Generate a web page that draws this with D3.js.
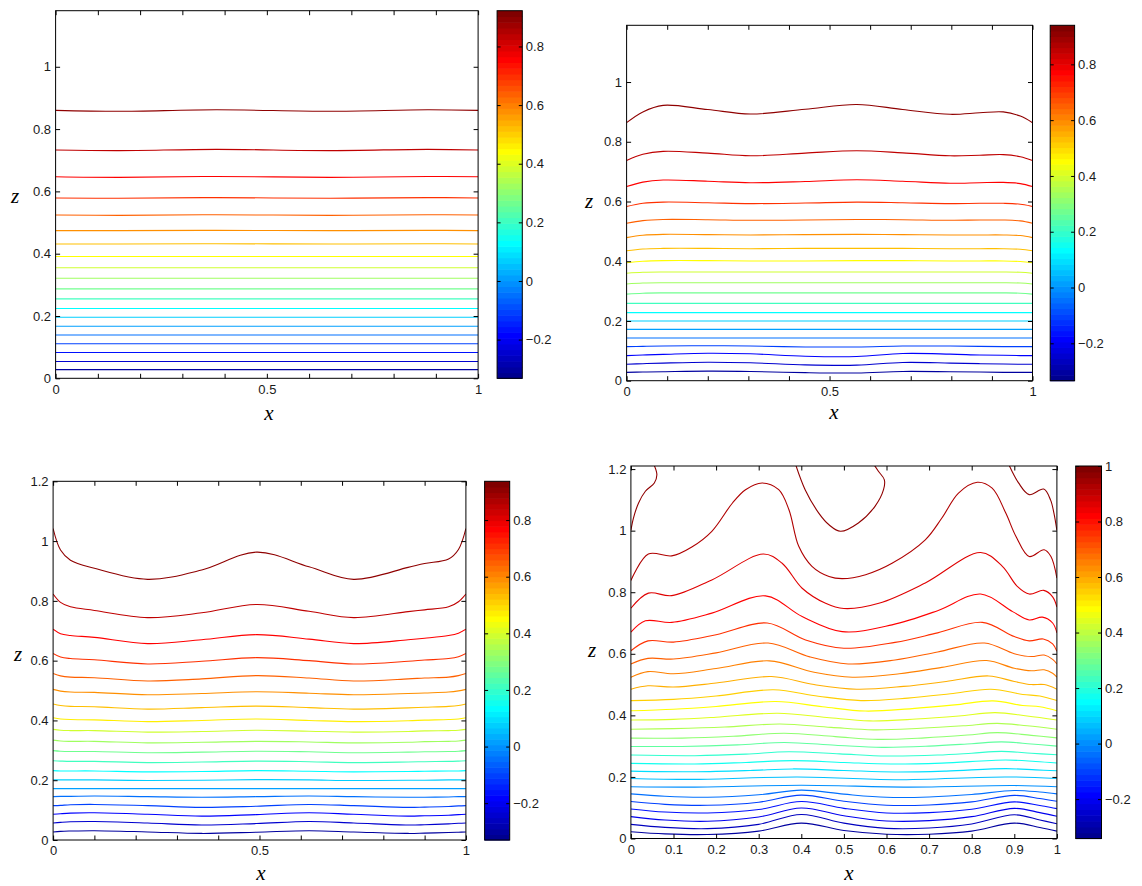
<!DOCTYPE html>
<html>
<head>
<meta charset="utf-8">
<script src="https://cdn.jsdelivr.net/npm/d3@7"></script>
<style>
  html, body { margin: 0; padding: 0; background: #fff; }
  svg { display: block; }
  .tick text { font-family: "Liberation Sans", Arial, Helvetica, sans-serif; font-size: 13px; fill: #1a1a1a; }
  .axis-label { font-family: "Liberation Serif", "Times New Roman", serif; font-style: italic; font-size: 21px; fill: #000; }
</style>
</head>
<body>
<svg id="fig" width="1142" height="886"></svg>
<script>
// ---- tick values ----
const xTicks = [0, 0.1, 0.2, 0.3, 0.4, 0.5, 0.6, 0.7, 0.8, 0.9, 1];
const xLabelsSparse = [0, 0.5, 1];
const zTicksTop = [0, 0.2, 0.4, 0.6, 0.8, 1];
const zTicksBottom = [0, 0.2, 0.4, 0.6, 0.8, 1, 1.2];
const cTicks = [-0.2, 0, 0.2, 0.4, 0.6, 0.8];
const cTicks4 = [-0.2, 0, 0.2, 0.4, 0.6, 0.8, 1];

// ---- panel 1 (top left) ----
const p1Levels = [0.890, 0.827, 0.765, 0.702, 0.639, 0.577, 0.514, 0.451, 0.389, 0.326,
                  0.263, 0.201, 0.138, 0.075, 0.013, -0.050, -0.113, -0.175, -0.238, -0.301];
const p1X = [0, 0.15, 0.38, 0.65, 0.88, 1];
const p1Z = [
  [0.860, 0.857, 0.862, 0.857, 0.862, 0.860],
  [0.733, 0.731, 0.735, 0.731, 0.735, 0.733],
  [0.647, 0.645, 0.648, 0.645, 0.648, 0.647],
  [0.579, 0.578, 0.580, 0.578, 0.580, 0.579],
  [0.524, 0.523, 0.525, 0.523, 0.525, 0.524],
  [0.474, 0.474, 0.475, 0.474, 0.475, 0.474],
  [0.431, 0.431, 0.432, 0.431, 0.432, 0.431],
  [0.391, 0.391, 0.391, 0.391, 0.391, 0.391],
  [0.355, 0.355, 0.355, 0.355, 0.355, 0.355],
  [0.321, 0.321, 0.321, 0.321, 0.321, 0.321],
  [0.287, 0.287, 0.287, 0.287, 0.287, 0.287],
  [0.255, 0.255, 0.255, 0.255, 0.255, 0.255],
  [0.224, 0.224, 0.224, 0.224, 0.224, 0.224],
  [0.196, 0.196, 0.196, 0.196, 0.196, 0.196],
  [0.167, 0.167, 0.167, 0.167, 0.167, 0.167],
  [0.139, 0.139, 0.139, 0.139, 0.139, 0.139],
  [0.111, 0.111, 0.111, 0.111, 0.111, 0.111],
  [0.083, 0.083, 0.083, 0.083, 0.083, 0.083],
  [0.054, 0.054, 0.054, 0.054, 0.054, 0.054],
  [0.028, 0.028, 0.028, 0.028, 0.028, 0.028]
];

// ---- panel 2 (top right) ----
const p2Levels = [0.908, 0.844, 0.780, 0.717, 0.653, 0.589, 0.525, 0.462, 0.398, 0.334,
                  0.270, 0.207, 0.143, 0.079, 0.015, -0.048, -0.112, -0.176, -0.239, -0.303];
const p2X = [0, 0.04, 0.09, 0.2, 0.305, 0.44, 0.567, 0.68, 0.797, 0.87, 0.928, 0.97, 1];
const p2Z = [
  [0.864, 0.900, 0.922, 0.908, 0.893, 0.909, 0.925, 0.908, 0.892, 0.897, 0.900, 0.886, 0.864],
  [0.737, 0.758, 0.768, 0.762, 0.753, 0.762, 0.770, 0.763, 0.753, 0.755, 0.757, 0.750, 0.737],
  [0.650, 0.665, 0.672, 0.668, 0.663, 0.667, 0.673, 0.668, 0.661, 0.663, 0.664, 0.660, 0.650],
  [0.583, 0.594, 0.598, 0.596, 0.593, 0.595, 0.598, 0.596, 0.593, 0.594, 0.594, 0.591, 0.583],
  [0.527, 0.536, 0.540, 0.539, 0.537, 0.538, 0.540, 0.539, 0.537, 0.538, 0.538, 0.535, 0.527],
  [0.479, 0.487, 0.490, 0.489, 0.488, 0.489, 0.490, 0.489, 0.488, 0.488, 0.488, 0.486, 0.479],
  [0.435, 0.441, 0.443, 0.443, 0.442, 0.443, 0.443, 0.443, 0.442, 0.442, 0.442, 0.440, 0.435],
  [0.395, 0.400, 0.402, 0.402, 0.401, 0.401, 0.402, 0.402, 0.401, 0.401, 0.401, 0.399, 0.395],
  [0.360, 0.363, 0.364, 0.364, 0.364, 0.364, 0.364, 0.364, 0.364, 0.364, 0.364, 0.363, 0.360],
  [0.324, 0.327, 0.328, 0.328, 0.328, 0.328, 0.328, 0.328, 0.328, 0.328, 0.328, 0.327, 0.324],
  [0.290, 0.293, 0.294, 0.294, 0.294, 0.294, 0.294, 0.294, 0.294, 0.294, 0.294, 0.293, 0.290],
  [0.259, 0.259, 0.259, 0.259, 0.259, 0.259, 0.259, 0.259, 0.259, 0.259, 0.259, 0.259, 0.259],
  [0.228, 0.228, 0.228, 0.228, 0.228, 0.228, 0.228, 0.228, 0.228, 0.228, 0.228, 0.228, 0.228],
  [0.200, 0.200, 0.200, 0.200, 0.200, 0.200, 0.200, 0.200, 0.200, 0.200, 0.200, 0.200, 0.200],
  [0.172, 0.172, 0.172, 0.172, 0.172, 0.172, 0.172, 0.172, 0.172, 0.172, 0.172, 0.172, 0.172],
  [0.143, 0.143, 0.143, 0.143, 0.143, 0.143, 0.143, 0.143, 0.143, 0.143, 0.143, 0.143, 0.143],
  [0.114, 0.115, 0.116, 0.117, 0.116, 0.113, 0.113, 0.116, 0.116, 0.115, 0.114, 0.114, 0.114],
  [0.084, 0.086, 0.088, 0.092, 0.090, 0.082, 0.081, 0.091, 0.089, 0.086, 0.085, 0.084, 0.084],
  [0.055, 0.057, 0.059, 0.062, 0.060, 0.053, 0.052, 0.061, 0.059, 0.057, 0.056, 0.055, 0.055],
  [0.028, 0.029, 0.030, 0.032, 0.031, 0.027, 0.026, 0.031, 0.030, 0.029, 0.028, 0.028, 0.028]
];

// ---- panel 3 (bottom left) ----
const p3Levels = [0.905, 0.842, 0.778, 0.715, 0.652, 0.588, 0.525, 0.462, 0.398, 0.335,
                  0.272, 0.208, 0.145, 0.082, 0.018, -0.045, -0.108, -0.172, -0.235, -0.298];
const p3X = [0, 0.018, 0.042, 0.1, 0.229, 0.36, 0.493, 0.62, 0.728, 0.86, 0.9, 0.958, 0.982, 1];
const p3Z = [
  [1.042, 0.970, 0.936, 0.909, 0.872, 0.903, 0.963, 0.914, 0.872, 0.912, 0.925, 0.940, 0.972, 1.042],
  [0.823, 0.795, 0.780, 0.768, 0.744, 0.760, 0.788, 0.765, 0.744, 0.764, 0.770, 0.780, 0.797, 0.823],
  [0.705, 0.690, 0.684, 0.678, 0.657, 0.670, 0.687, 0.672, 0.657, 0.670, 0.675, 0.684, 0.692, 0.705],
  [0.624, 0.612, 0.607, 0.603, 0.589, 0.598, 0.610, 0.600, 0.589, 0.598, 0.602, 0.607, 0.613, 0.624],
  [0.557, 0.549, 0.545, 0.543, 0.532, 0.539, 0.550, 0.542, 0.532, 0.539, 0.542, 0.545, 0.550, 0.557],
  [0.504, 0.498, 0.495, 0.494, 0.486, 0.490, 0.496, 0.491, 0.486, 0.490, 0.492, 0.495, 0.499, 0.504],
  [0.455, 0.450, 0.447, 0.446, 0.438, 0.443, 0.448, 0.443, 0.438, 0.442, 0.444, 0.447, 0.450, 0.455],
  [0.409, 0.405, 0.403, 0.402, 0.396, 0.400, 0.405, 0.400, 0.396, 0.399, 0.401, 0.403, 0.405, 0.409],
  [0.370, 0.367, 0.366, 0.366, 0.361, 0.363, 0.367, 0.364, 0.361, 0.363, 0.365, 0.366, 0.367, 0.370],
  [0.334, 0.331, 0.330, 0.330, 0.325, 0.327, 0.330, 0.328, 0.325, 0.327, 0.329, 0.330, 0.331, 0.334],
  [0.299, 0.297, 0.296, 0.296, 0.292, 0.294, 0.297, 0.295, 0.292, 0.294, 0.295, 0.296, 0.297, 0.299],
  [0.265, 0.264, 0.263, 0.263, 0.259, 0.261, 0.264, 0.262, 0.259, 0.261, 0.262, 0.263, 0.264, 0.265],
  [0.232, 0.231, 0.231, 0.231, 0.228, 0.229, 0.232, 0.230, 0.228, 0.229, 0.230, 0.231, 0.231, 0.232],
  [0.201, 0.201, 0.201, 0.201, 0.199, 0.200, 0.202, 0.201, 0.199, 0.200, 0.200, 0.201, 0.201, 0.201],
  [0.172, 0.172, 0.172, 0.172, 0.172, 0.172, 0.172, 0.172, 0.172, 0.172, 0.172, 0.172, 0.172, 0.172],
  [0.145, 0.146, 0.146, 0.147, 0.145, 0.143, 0.145, 0.147, 0.145, 0.143, 0.143, 0.144, 0.145, 0.145],
  [0.115, 0.116, 0.118, 0.119, 0.115, 0.109, 0.113, 0.119, 0.115, 0.109, 0.110, 0.112, 0.114, 0.115],
  [0.086, 0.088, 0.090, 0.091, 0.086, 0.080, 0.085, 0.091, 0.086, 0.080, 0.081, 0.083, 0.085, 0.086],
  [0.057, 0.059, 0.061, 0.062, 0.057, 0.050, 0.055, 0.062, 0.057, 0.050, 0.051, 0.054, 0.056, 0.057],
  [0.027, 0.029, 0.030, 0.031, 0.027, 0.022, 0.026, 0.031, 0.027, 0.022, 0.023, 0.025, 0.026, 0.027]
];

// ---- panel 4 (bottom right) ----
const p4Levels = [0.973, 0.919, 0.866, 0.812, 0.758, 0.705, 0.651, 0.597, 0.544, 0.490,
                  0.436, 0.383, 0.329, 0.275, 0.222, 0.168, 0.114, 0.061, 0.007, -0.047,
                  -0.100, -0.154, -0.208, -0.261, -0.315];
// each contour: [level index, points [x, z]]
const p4Contours = [
  [0, [[0.049,1.23],[0.061,1.182],[0.055,1.155],[0.034,1.128],[0.018,1.090],[0.006,1.041],[0,1.001]]],
  [0, [[0.383,1.23],[0.409,1.133],[0.441,1.057],[0.465,1.019],[0.492,0.998],[0.534,1.025],[0.573,1.079],[0.593,1.133],[0.595,1.165],[0.581,1.193],[0.563,1.23]]],
  [0, [[0.882,1.23],[0.910,1.155],[0.935,1.117],[0.969,1.135],[0.985,1.100],[0.993,1.057],[1,1.001]]],
  [1, [[0,0.838],[0.041,0.924],[0.096,0.918],[0.143,0.947],[0.19,0.998],[0.238,1.089],[0.269,1.133],[0.308,1.155],[0.347,1.133],[0.371,1.068],[0.394,0.949],[0.425,0.884],[0.465,0.851],[0.496,0.844],[0.551,0.857],[0.613,0.894],[0.691,0.970],[0.730,1.041],[0.769,1.122],[0.813,1.157],[0.848,1.138],[0.880,1.057],[0.904,0.981],[0.935,0.916],[0.970,0.938],[0.986,0.916],[1,0.846]]],
  [2, [[0,0.748],[0.041,0.797],[0.096,0.789],[0.19,0.840],[0.311,0.924],[0.355,0.894],[0.402,0.813],[0.457,0.764],[0.5,0.747],[0.582,0.764],[0.691,0.830],[0.821,0.929],[0.872,0.884],[0.907,0.819],[0.935,0.794],[0.969,0.806],[0.99,0.785],[1,0.752]]],
  [3, [[0,0.670],[0.034,0.707],[0.096,0.702],[0.19,0.732],[0.316,0.788],[0.402,0.721],[0.496,0.672],[0.613,0.694],[0.72,0.740],[0.821,0.794],[0.896,0.737],[0.935,0.710],[0.966,0.719],[0.99,0.700],[1,0.668]]],
  [4, [[0,0.610],[0.04,0.642],[0.1,0.638],[0.2,0.662],[0.32,0.700],[0.41,0.645],[0.5,0.618],[0.62,0.637],[0.72,0.668],[0.825,0.702],[0.9,0.656],[0.935,0.642],[0.968,0.648],[0.99,0.632],[1,0.608]]],
  [5, [[0,0.567],[0.04,0.585],[0.1,0.583],[0.2,0.603],[0.322,0.635],[0.42,0.590],[0.51,0.567],[0.62,0.580],[0.72,0.606],[0.83,0.635],[0.9,0.600],[0.94,0.591],[0.97,0.596],[0.99,0.582],[1,0.567]]],
  [6, [[0,0.524],[0.04,0.542],[0.1,0.535],[0.2,0.552],[0.325,0.577],[0.43,0.540],[0.52,0.524],[0.63,0.535],[0.73,0.556],[0.835,0.578],[0.9,0.553],[0.94,0.545],[0.97,0.548],[0.99,0.537],[1,0.524]]],
  [7, [[0,0.485],[0.04,0.496],[0.1,0.492],[0.2,0.505],[0.33,0.526],[0.43,0.500],[0.53,0.485],[0.64,0.494],[0.74,0.510],[0.84,0.528],[0.9,0.510],[0.94,0.500],[0.97,0.500],[1,0.485]]],
  [8, [[0,0.448],[0.1,0.452],[0.2,0.463],[0.335,0.483],[0.44,0.462],[0.54,0.448],[0.65,0.456],[0.75,0.470],[0.845,0.485],[0.92,0.468],[0.96,0.463],[1,0.448]]],
  [9, [[0,0.415],[0.1,0.420],[0.2,0.429],[0.34,0.445],[0.45,0.428],[0.55,0.414],[0.66,0.422],[0.76,0.434],[0.85,0.447],[0.92,0.432],[0.96,0.428],[1,0.415]]],
  [10, [[0,0.385],[0.1,0.387],[0.2,0.394],[0.345,0.407],[0.46,0.393],[0.56,0.382],[0.67,0.388],[0.77,0.398],[0.855,0.409],[0.93,0.398],[1,0.385]]],
  [11, [[0,0.355],[0.1,0.357],[0.22,0.362],[0.35,0.372],[0.47,0.361],[0.57,0.353],[0.68,0.358],[0.78,0.366],[0.86,0.374],[0.93,0.366],[1,0.355]]],
  [12, [[0,0.326],[0.12,0.326],[0.24,0.332],[0.36,0.342],[0.48,0.331],[0.58,0.322],[0.69,0.327],[0.79,0.336],[0.86,0.344],[0.94,0.335],[1,0.327]]],
  [13, [[0,0.299],[0.12,0.299],[0.25,0.304],[0.36,0.312],[0.48,0.303],[0.59,0.296],[0.7,0.300],[0.8,0.308],[0.87,0.314],[0.94,0.307],[1,0.300]]],
  [14, [[0,0.271],[0.15,0.269],[0.27,0.274],[0.37,0.282],[0.49,0.275],[0.6,0.268],[0.72,0.271],[0.8,0.277],[0.87,0.283],[0.94,0.277],[1,0.272]]],
  [15, [[0,0.244],[0.15,0.242],[0.27,0.247],[0.38,0.253],[0.5,0.247],[0.61,0.242],[0.73,0.245],[0.88,0.255],[0.95,0.250],[1,0.245]]],
  [16, [[0,0.219],[0.15,0.217],[0.28,0.221],[0.38,0.226],[0.5,0.221],[0.62,0.216],[0.74,0.219],[0.88,0.227],[0.95,0.223],[1,0.220]]],
  [17, [[0,0.195],[0.15,0.192],[0.39,0.200],[0.62,0.191],[0.88,0.200],[1,0.195]]],
  [18, [[0,0.168],[0.15,0.167],[0.4,0.173],[0.65,0.167],[0.9,0.172],[1,0.168]]]
];
// lower, more wavy lines of panel 4 on a shared x grid
const p4LowX = [0, 0.08, 0.18, 0.3, 0.4, 0.5, 0.6, 0.7, 0.8, 0.9, 0.96, 1];
const p4LowLevelIdx = [19, 20, 21, 22, 23, 24];
const p4LowZ = [
  [0.145, 0.137, 0.134, 0.142, 0.157, 0.144, 0.134, 0.135, 0.143, 0.156, 0.151, 0.145],
  [0.120, 0.111, 0.108, 0.118, 0.141, 0.121, 0.108, 0.109, 0.119, 0.140, 0.130, 0.121],
  [0.096, 0.086, 0.083, 0.094, 0.120, 0.098, 0.083, 0.084, 0.095, 0.119, 0.107, 0.097],
  [0.071, 0.060, 0.056, 0.070, 0.099, 0.074, 0.057, 0.058, 0.071, 0.098, 0.084, 0.072],
  [0.046, 0.036, 0.032, 0.046, 0.078, 0.050, 0.033, 0.034, 0.047, 0.077, 0.060, 0.048],
  [0.022, 0.015, 0.013, 0.024, 0.050, 0.026, 0.014, 0.014, 0.024, 0.050, 0.036, 0.024]
];

// ---- MATLAB jet(64) colormap ----
function jet64() {
  const n = 16, u = [];
  for (let j = 1; j <= n; j++) u.push(j / n);
  for (let j = 0; j < n - 1; j++) u.push(1);
  for (let j = n; j >= 1; j--) u.push(j / n);
  const val = i => (i >= 1 && i <= u.length) ? u[i - 1] : 0;
  const cols = [];
  for (let k = 1; k <= 64; k++) {
    cols.push(d3.rgb(255 * val(k - 24), 255 * val(k - 8), 255 * val(k + 8)).formatHex());
  }
  return cols;
}
const jet = jet64();

const gridLines = (xs, zs, levels) => zs.map((row, i) => ({ level: levels[i], pts: row.map((z, j) => [xs[j], z]) }));

const p4Lines = p4Contours.map(([li, pts]) => ({ level: p4Levels[li], pts }))
  .concat(p4LowZ.map((row, i) => ({ level: p4Levels[p4LowLevelIdx[i]], pts: row.map((z, j) => [p4LowX[j], z]) })));

const panels = [
  { box: [55.6, 10.7, 478.1, 378.3], zMax: 1.18, cb: [497.1, 522.3], cRange: [-0.332, 0.922],
    zTicks: zTicksTop, xLabels: xLabelsSparse, cTicks: cTicks, zLab: [15, 203], xLab: [269, 420],
    lines: gridLines(p1X, p1Z, p1Levels) },
  { box: [626.6, 25.3, 1032.5, 380.7], zMax: 1.19, cb: [1050.2, 1074.6], cRange: [-0.334, 0.94],
    zTicks: zTicksTop, xLabels: xLabelsSparse, cTicks: cTicks, zLab: [589, 208], xLab: [834, 419],
    lines: gridLines(p2X, p2Z, p2Levels) },
  { box: [53.1, 481.3, 465.9, 840], zMax: 1.2, cb: [484.6, 509.7], cRange: [-0.33, 0.937],
    zTicks: zTicksBottom, xLabels: xLabelsSparse, cTicks: cTicks, zLab: [18, 661], xLab: [261, 880],
    lines: gridLines(p3X, p3Z, p3Levels) },
  { box: [630.9, 466, 1056.9, 838.5], zMax: 1.21, cb: [1075.7, 1101.5], cRange: [-0.342, 1],
    zTicks: zTicksBottom, xLabels: xTicks, cTicks: cTicks4, zLab: [592, 657], xLab: [849, 880],
    lines: p4Lines }
];

const svg = d3.select("#fig");
const fmt = d3.format("~g");

function styleAxis(sel) {
  sel.select(".domain").remove();
  sel.selectAll(".tick line").attr("stroke", "#000").attr("stroke-width", 1);
  sel.attr("font-size", null).attr("font-family", null);
}

panels.forEach((p, i) => {
  const [x0, y0, x1, y1] = p.box;
  const x = d3.scaleLinear().domain([0, 1]).range([x0, x1]);
  const y = d3.scaleLinear().domain([0, p.zMax]).range([y1, y0]);
  const [cMin, cMax] = p.cRange;
  const c = d3.scaleLinear().domain([cMin, cMax]).range([y1, y0]);
  const colorOf = v => jet[Math.max(0, Math.min(63, Math.floor((v - cMin) / (cMax - cMin) * 64)))];

  const g = svg.append("g");

  g.append("clipPath").attr("id", "clip" + i)
    .append("rect").attr("x", x0).attr("y", y0).attr("width", x1 - x0).attr("height", y1 - y0);

  const line = d3.line()
    .x(d => x(d[0]))
    .y(d => y(d[1]))
    .curve(d3.curveCatmullRom.alpha(0.5));

  g.append("g").attr("clip-path", `url(#clip${i})`)
    .selectAll("path")
    .data(p.lines)
    .join("path")
    .attr("fill", "none")
    .attr("stroke", d => colorOf(d.level))
    .attr("stroke-width", 1.1)
    .attr("d", d => line(d.pts));

  // axes with inward ticks on all four sides
  const xfmt = d => p.xLabels.includes(d) ? fmt(d) : "";
  g.append("g").attr("transform", `translate(0,${y1})`)
    .call(d3.axisBottom(x).tickValues(xTicks).tickSize(-4.5).tickPadding(6).tickFormat(xfmt))
    .call(styleAxis);
  g.append("g").attr("transform", `translate(0,${y0})`)
    .call(d3.axisTop(x).tickValues(xTicks).tickSize(-4.5).tickFormat(""))
    .call(styleAxis);
  g.append("g").attr("transform", `translate(${x0},0)`)
    .call(d3.axisLeft(y).tickValues(p.zTicks).tickSize(-4.5).tickPadding(4.5).tickFormat(fmt))
    .call(styleAxis);
  g.append("g").attr("transform", `translate(${x1},0)`)
    .call(d3.axisRight(y).tickValues(p.zTicks).tickSize(-4.5).tickFormat(""))
    .call(styleAxis);

  g.append("rect")
    .attr("x", x0).attr("y", y0).attr("width", x1 - x0).attr("height", y1 - y0)
    .attr("fill", "none").attr("stroke", "#000").attr("stroke-width", 1);

  // colorbar
  const [cbL, cbR] = p.cb;
  const step = (cMax - cMin) / 64;
  g.append("g").selectAll("rect")
    .data(jet)
    .join("rect")
    .attr("x", cbL)
    .attr("width", cbR - cbL)
    .attr("y", (d, k) => c(cMin + (k + 1) * step))
    .attr("height", (d, k) => c(cMin + k * step) - c(cMin + (k + 1) * step) + 0.6)
    .attr("fill", d => d);

  g.append("g").attr("transform", `translate(${cbL},0)`)
    .call(d3.axisLeft(c).tickValues(p.cTicks).tickSize(-3.5).tickFormat(""))
    .call(styleAxis);
  g.append("g").attr("transform", `translate(${cbR},0)`)
    .call(d3.axisRight(c).tickValues(p.cTicks).tickSize(-3.5).tickPadding(3.5).tickFormat(fmt))
    .call(styleAxis);

  g.append("rect")
    .attr("x", cbL).attr("y", y0).attr("width", cbR - cbL).attr("height", y1 - y0)
    .attr("fill", "none").attr("stroke", "#000").attr("stroke-width", 1);

  // axis labels
  g.append("text").attr("class", "axis-label")
    .attr("x", p.xLab[0]).attr("y", p.xLab[1]).attr("text-anchor", "middle").text("x");
  g.append("text").attr("class", "axis-label")
    .attr("x", p.zLab[0]).attr("y", p.zLab[1]).attr("text-anchor", "middle").text("z");
});
</script>
</body>
</html>
